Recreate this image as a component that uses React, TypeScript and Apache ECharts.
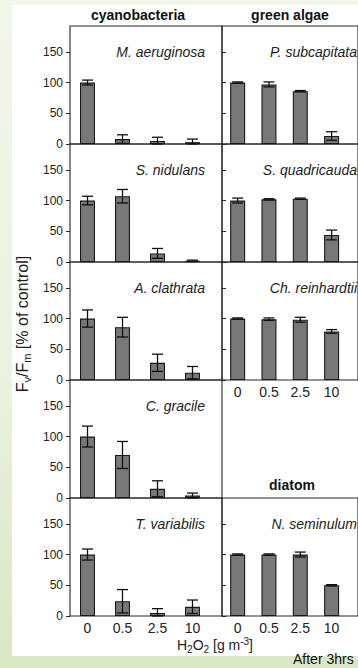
import React, { useEffect, useRef } from 'react';
import * as echarts from 'echarts';

// ---- data ----
const doses = ['0', '0.5', '2.5', '10'];
const yTicks = [0, 50, 100, 150];
const groupTitles = ['cyanobacteria', 'green algae', 'diatom'];

const mAeruginosaMean = [100, 8, 5, 3];
const mAeruginosaErr = [4, 7, 6, 5];
const sNidulansMean = [100, 107, 14, 2];
const sNidulansErr = [7, 11, 8, 1];
const aClathrataMean = [100, 86, 28, 12];
const aClathrataErr = [14, 16, 14, 10];
const cGracileMean = [100, 70, 15, 4];
const cGracileErr = [17, 22, 13, 4];
const tVariabilisMean = [100, 24, 5, 15];
const tVariabilisErr = [9, 19, 7, 11];
const pSubcapitataMean = [100, 97, 86, 13];
const pSubcapitataErr = [1, 4, 1, 7];
const sQuadricaudaMean = [100, 102, 103, 44];
const sQuadricaudaErr = [4, 1, 1, 8];
const chReinhardtiiMean = [100, 99, 98, 79];
const chReinhardtiiErr = [1, 2, 4, 3];
const nSeminulumMean = [100, 100, 100, 50];
const nSeminulumErr = [1, 1, 4, 1];

const panels = [
  { name: 'M. aeruginosa', mean: mAeruginosaMean, err: mAeruginosaErr, col: 0, row: 0, xLabels: false },
  { name: 'S. nidulans', mean: sNidulansMean, err: sNidulansErr, col: 0, row: 1, xLabels: false },
  { name: 'A. clathrata', mean: aClathrataMean, err: aClathrataErr, col: 0, row: 2, xLabels: false },
  { name: 'C. gracile', mean: cGracileMean, err: cGracileErr, col: 0, row: 3, xLabels: false },
  { name: 'T. variabilis', mean: tVariabilisMean, err: tVariabilisErr, col: 0, row: 4, xLabels: true },
  { name: 'P. subcapitata', mean: pSubcapitataMean, err: pSubcapitataErr, col: 1, row: 0, xLabels: false },
  { name: 'S. quadricauda', mean: sQuadricaudaMean, err: sQuadricaudaErr, col: 1, row: 1, xLabels: false },
  { name: 'Ch. reinhardtii', mean: chReinhardtiiMean, err: chReinhardtiiErr, col: 1, row: 2, xLabels: true },
  { name: 'N. seminulum', mean: nSeminulumMean, err: nSeminulumErr, col: 1, row: 4, xLabels: true },
];

// ---- layout ----
const W = 358;
const H = 668;
const ROW_TOP = 26;
const ROW_H = 118;
const COL_LEFT = [70, 222];
const COL_W = 152;
const SLOT = 35;
const Y_MAX = 192;
const FONT = '"Liberation Sans", Arial, Helvetica, sans-serif';
const LINE = '#262626';

export default function App() {
  const ref = useRef<HTMLDivElement>(null);

  useEffect(() => {
    if (!ref.current) return;
    const chart = echarts.init(ref.current, undefined, { renderer: 'svg' });

    const grid: any[] = [];
    const xAxis: any[] = [];
    const yAxis: any[] = [];
    const series: any[] = [];
    const graphic: any[] = [];

    panels.forEach((p, i) => {
      const left = COL_LEFT[p.col];
      const top = ROW_TOP + p.row * ROW_H;
      grid.push({
        left,
        top,
        width: COL_W,
        height: ROW_H,
        show: true,
        borderColor: LINE,
        borderWidth: 1.1,
        backgroundColor: 'transparent',
        containLabel: false,
      });
      xAxis.push({
        type: 'value',
        gridIndex: i,
        min: 0,
        max: COL_W / SLOT,
        axisLine: { show: false },
        axisTick: { show: false },
        splitLine: { show: false },
        axisLabel: {
          show: p.xLabels,
          customValues: doses.map((_, k) => k + 0.5),
          formatter: (v: number) => doses[Math.round(v - 0.5)] ?? '',
          fontFamily: FONT,
          fontSize: 14,
          color: '#222',
          margin: 5,
        },
      });
      yAxis.push({
        type: 'value',
        gridIndex: i,
        min: 0,
        max: Y_MAX,
        axisLine: { show: false },
        splitLine: { show: false },
        axisTick: {
          show: true,
          inside: p.col === 1,
          length: 4,
          customValues: yTicks,
          lineStyle: { color: LINE, width: 1 },
        },
        axisLabel: {
          show: p.col === 0,
          customValues: yTicks,
          fontFamily: FONT,
          fontSize: 12,
          color: '#222',
          margin: 7,
        },
      });
      series.push({
        type: 'bar',
        xAxisIndex: i,
        yAxisIndex: i,
        barWidth: 15,
        data: p.mean.map((m, k) => [k + 0.5, m]),
        itemStyle: { color: '#787878', borderColor: '#1a1a1a', borderWidth: 1.1 },
        z: 2,
      });
      series.push({
        type: 'custom',
        xAxisIndex: i,
        yAxisIndex: i,
        z: 3,
        data: p.mean.map((m, k) => [k + 0.5, m, p.err[k]]),
        encode: { x: 0, y: 1 },
        renderItem: (params: any, api: any) => {
          const x = api.value(0);
          const y = api.value(1);
          const e = api.value(2);
          const hi = api.coord([x, y + e]);
          const lo = api.coord([x, Math.max(0, y - e)]);
          const hw = 5.5;
          const st = { stroke: '#111', lineWidth: 1.3 };
          return {
            type: 'group',
            children: [
              { type: 'line', shape: { x1: hi[0], y1: hi[1], x2: lo[0], y2: lo[1] }, style: st },
              { type: 'line', shape: { x1: hi[0] - hw, y1: hi[1], x2: hi[0] + hw, y2: hi[1] }, style: st },
              { type: 'line', shape: { x1: lo[0] - hw, y1: lo[1], x2: lo[0] + hw, y2: lo[1] }, style: st },
            ],
          };
        },
      });
      graphic.push({
        type: 'text',
        x: left + COL_W - 17,
        y: top + 26,
        style: {
          text: p.name,
          fontFamily: FONT,
          fontSize: 14,
          fontStyle: 'italic',
          fill: '#222',
          align: 'right',
          verticalAlign: 'middle',
        },
        silent: true,
      });
    });

    // group headers
    graphic.push({
      type: 'text', x: 138, y: 15,
      style: { text: groupTitles[0], fontFamily: FONT, fontSize: 14, fontWeight: 'bold', fill: '#111', align: 'center', verticalAlign: 'middle' },
    });
    graphic.push({
      type: 'text', x: 290, y: 15,
      style: { text: groupTitles[1], fontFamily: FONT, fontSize: 14, fontWeight: 'bold', fill: '#111', align: 'center', verticalAlign: 'middle' },
    });
    graphic.push({
      type: 'text', x: 292, y: ROW_TOP + 4 * ROW_H - 13,
      style: { text: groupTitles[2], fontFamily: FONT, fontSize: 14, fontWeight: 'bold', fill: '#111', align: 'center', verticalAlign: 'middle' },
    });

    // y-axis title
    const ny = { fontFamily: FONT, fontSize: 16, lineHeight: 20, fill: '#222' };
    const sy = { fontFamily: FONT, fontSize: 11, lineHeight: 11, fill: '#222', verticalAlign: 'bottom' };
    graphic.push({
      type: 'text',
      x: 22,
      y: 324,
      rotation: Math.PI / 2,
      style: {
        text: '{n|F}{s|v}{n|/F}{s|m}{n| [% of control]}',
        rich: { n: ny, s: sy },
        align: 'center',
        verticalAlign: 'middle',
        fontFamily: FONT,
        fontSize: 16,
      },
    });
    // x-axis title
    const n = { fontFamily: FONT, fontSize: 14, lineHeight: 18, fill: '#222' };
    const sub = { fontFamily: FONT, fontSize: 10, lineHeight: 10, fill: '#222', verticalAlign: 'bottom' };
    const sup = { fontFamily: FONT, fontSize: 10, lineHeight: 10, fill: '#222', verticalAlign: 'top' };
    graphic.push({
      type: 'text',
      x: 215,
      y: 645,
      style: {
        text: '{n|H}{s|2}{n|O}{s|2}{n| [g m}{p|-3}{n|]}',
        rich: { n, s: sub, p: sup },
        align: 'center',
        verticalAlign: 'middle',
        fontFamily: FONT,
        fontSize: 14,
      },
    });
    graphic.push({
      type: 'text',
      x: 293,
      y: 659,
      style: { text: 'After 3hrs', fontFamily: FONT, fontSize: 14, fill: '#111', align: 'left', verticalAlign: 'middle' },
    });

    chart.setOption({
      animation: false,
      backgroundColor: 'transparent',
      grid,
      xAxis,
      yAxis,
      series,
      graphic,
    });

    return () => chart.dispose();
  }, []);

  return (
    <div
      style={{
        position: 'fixed',
        left: 0,
        top: 0,
        width: W,
        height: H,
        background: 'linear-gradient(180deg, #f2f7ea 0%, #ebf2df 55%, #dbe7c3 100%)',
        overflow: 'hidden',
      }}
    >
      <div
        style={{
          position: 'absolute',
          left: 12,
          top: 5,
          width: W - 12,
          height: 651,
          background: '#ffffff',
        }}
      />
      <div ref={ref} style={{ position: 'absolute', left: 0, top: 0, width: W, height: H }} />
    </div>
  );
}
